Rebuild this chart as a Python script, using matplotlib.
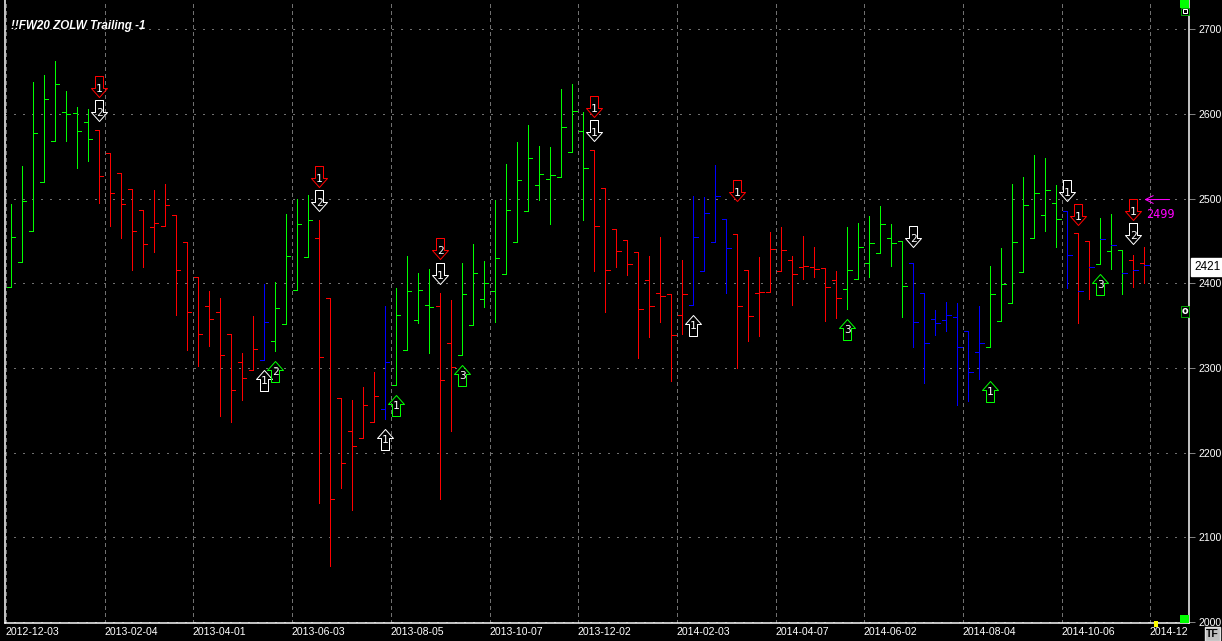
import numpy as np
import matplotlib
matplotlib.use("Agg")
import matplotlib.pyplot as plt
from matplotlib.path import Path
from matplotlib.patches import Rectangle

# weekly bars, 2012-12-03 to 2014-11-24
highs = [2494, 2539, 2638, 2646, 2663, 2627, 2608, 2606, 2581, 2554, 2530, 2512, 2487, 2510, 2517,
         2481, 2449, 2408, 2391, 2383, 2340, 2318, 2362, 2399, 2402, 2482, 2500, 2504, 2475, 2383,
         2265, 2262, 2278, 2295, 2373, 2395, 2432, 2412, 2417, 2389, 2380, 2424, 2446, 2426, 2498,
         2541, 2567, 2587, 2562, 2561, 2630, 2635, 2602, 2558, 2513, 2464, 2451, 2437, 2432, 2455,
         2388, 2428, 2503, 2502, 2540, 2476, 2458, 2416, 2431, 2461, 2467, 2432, 2456, 2443, 2418,
         2415, 2467, 2471, 2480, 2491, 2470, 2450, 2424, 2389, 2369, 2378, 2377, 2344, 2373, 2421,
         2442, 2517, 2526, 2552, 2548, 2516, 2485, 2460, 2450, 2477, 2482, 2439, 2434, 2443]
lows = [2396, 2425, 2462, 2520, 2568, 2568, 2536, 2545, 2495, 2468, 2454, 2416, 2419, 2437, 2468,
        2363, 2321, 2302, 2326, 2244, 2236, 2262, 2298, 2310, 2320, 2352, 2392, 2431, 2141, 2066,
        2158, 2133, 2218, 2236, 2240, 2280, 2321, 2353, 2318, 2146, 2226, 2315, 2351, 2372, 2354,
        2411, 2449, 2485, 2498, 2470, 2526, 2555, 2475, 2415, 2366, 2419, 2410, 2312, 2337, 2354,
        2285, 2340, 2375, 2415, 2449, 2389, 2300, 2332, 2338, 2390, 2415, 2375, 2405, 2408, 2356,
        2359, 2370, 2405, 2408, 2436, 2421, 2360, 2325, 2282, 2339, 2344, 2256, 2261, 2287, 2325,
        2356, 2377, 2413, 2454, 2462, 2443, 2395, 2353, 2382, 2423, 2417, 2388, 2396, 2400]
opens = [2396, 2425, 2462, 2520, 2568, 2602, 2601, 2591, 2581, 2554, 2530, 2512, 2487, 2467, 2468,
         2481, 2449, 2408, 2373, 2366, 2340, 2307, 2298, 2310, 2332, 2352, 2392, 2431, 2454, 2383,
         2265, 2226, 2218, 2236, 2252, 2280, 2321, 2357, 2375, 2373, 2330, 2315, 2351, 2382, 2391,
         2411, 2449, 2485, 2516, 2523, 2526, 2555, 2580, 2558, 2513, 2464, 2451, 2437, 2404, 2389,
         2388, 2363, 2375, 2415, 2449, 2476, 2458, 2416, 2389, 2390, 2415, 2428, 2419, 2419, 2418,
         2404, 2393, 2405, 2424, 2436, 2454, 2450, 2424, 2389, 2358, 2357, 2360, 2344, 2319, 2325,
         2356, 2377, 2413, 2454, 2481, 2495, 2485, 2460, 2450, 2423, 2438, 2439, 2428, 2424]
closes = [2455, 2497, 2578, 2618, 2635, 2600, 2580, 2571, 2527, 2507, 2494, 2462, 2446, 2471, 2493,
          2416, 2366, 2340, 2358, 2315, 2274, 2288, 2323, 2354, 2371, 2432, 2470, 2475, 2313, 2146,
          2188, 2208, 2256, 2267, 2307, 2363, 2391, 2392, 2372, 2286, 2301, 2388, 2412, 2400, 2430,
          2487, 2522, 2548, 2529, 2528, 2585, 2604, 2536, 2468, 2416, 2438, 2423, 2370, 2373, 2385,
          2339, 2388, 2455, 2483, 2503, 2442, 2373, 2362, 2390, 2441, 2439, 2411, 2421, 2417, 2396,
          2383, 2416, 2443, 2448, 2470, 2448, 2397, 2354, 2330, 2353, 2363, 2325, 2295, 2330, 2388,
          2399, 2449, 2493, 2507, 2510, 2476, 2434, 2391, 2419, 2452, 2445, 2412, 2416, 2422]
bar_colors = (["#00ff00"] * 8 + ["#ff0000"] * 15 + ["#0000ff"] + ["#00ff00"] * 4 + ["#ff0000"] * 6
              + ["#0000ff"] + ["#00ff00"] * 4 + ["#ff0000"] * 2 + ["#00ff00"] * 12 + ["#ff0000"] * 9
              + ["#0000ff"] * 4 + ["#ff0000"] * 10 + ["#00ff00"] * 6 + ["#0000ff"] * 7 + ["#00ff00"] * 7
              + ["#0000ff"] + ["#ff0000"] * 2 + ["#00ff00"] * 3 + ["#ff0000"] * 2)
close_colors = bar_colors[:97] + ["#0000ff"] * 7

date_idx = [0, 9, 17, 26, 35, 44, 52, 61, 70, 78, 87, 96, 104]
date_labels = ["2012-12-03", "2013-02-04", "2013-04-01", "2013-06-03", "2013-08-05", "2013-10-07",
               "2013-12-02", "2014-02-03", "2014-04-07", "2014-06-02", "2014-08-04", "2014-10-06",
               "2014-12"]
price_ticks = [2000, 2100, 2200, 2300, 2400, 2500, 2600, 2700]

# signal arrows: bar, tip price, colour, number
down_arrows = [(8, 2620, "#ff0000", "1"), (8, 2592, "white", "2"),
               (28, 2514, "#ff0000", "1"), (28, 2486, "white", "2"),
               (39, 2429, "#ff0000", "2"), (39, 2399, "white", "1"),
               (53, 2596, "#ff0000", "1"), (53, 2568, "white", "1"),
               (66, 2497, "#ff0000", "1"), (82, 2443, "white", "2"),
               (96, 2497, "white", "1"), (97, 2469, "#ff0000", "1"),
               (102, 2475, "#ff0000", "1"), (102, 2447, "white", "2")]
up_arrows = [(23, 2298, "white", "1"), (24, 2308, "#00ff00", "2"),
             (34, 2228, "white", "1"), (35, 2268, "#00ff00", "1"),
             (41, 2304, "#00ff00", "3"), (62, 2363, "white", "1"),
             (76, 2358, "#00ff00", "3"), (89, 2285, "#00ff00", "1"),
             (99, 2411, "#00ff00", "3")]
last_price = 2421
stop_price = 2499

px = 72.0 / 100.0  # one pixel in points at dpi 100

fig = plt.figure(figsize=(12.22, 6.41), dpi=100, facecolor="black")
ax = fig.add_axes([5 / 1222, 18 / 641, 1184 / 1222, 623 / 641], facecolor="black")
ax.set_xlim(-0.573, 107.06)
ax.set_ylim(1999, 2734.6)

# grid
for p in price_ticks:
    ax.axhline(p, color="#707070", lw=px, dashes=(2, 7), antialiased=False, zorder=1)
for i in date_idx:
    ax.axvline(i - 0.5, color="#707070", lw=px, dashes=(3, 3), antialiased=False, zorder=1)

# bars
x = np.arange(len(highs))
ax.vlines(x, lows, highs, colors=bar_colors, lw=px, antialiased=False, zorder=3)
ax.hlines(opens, x - 0.38, x, colors=bar_colors, lw=px, antialiased=False, zorder=3)
ax.hlines(closes, x, x + 0.38, colors=close_colors, lw=px, antialiased=False, zorder=3)

# arrows
down_shape = Path([(0, 0), (8, 9), (4, 9), (4, 21), (-4, 21), (-4, 9), (-8, 9), (0, 0)], closed=True)
up_shape = Path([(0, 0), (8, -9), (4, -9), (4, -21), (-4, -21), (-4, -9), (-8, -9), (0, 0)], closed=True)
for arrows, shape, off in [(down_arrows, down_shape, 8), (up_arrows, up_shape, -11)]:
    for i, p, c, n in arrows:
        ax.plot([i], [p], marker=shape, ms=42 * px, mfc="none", mec=c, mew=px,
                linestyle="none", zorder=4)
        ax.annotate(n, (i, p), xytext=(0, off * px), textcoords="offset points", color="white",
                    fontsize=8, family="DejaVu Sans Mono", ha="center", va="center", zorder=5)

# magenta stop marker
ax.annotate("", (103, stop_price), xytext=(105.3, stop_price),
            arrowprops=dict(arrowstyle="->", color="#ff00ff", lw=px, shrinkA=0, shrinkB=0,
                            mutation_scale=14))
ax.annotate(str(stop_price), (103, stop_price), xytext=(2 * px, -15 * px), textcoords="offset points",
            color="#ff00ff", fontsize=8.5, family="DejaVu Sans Mono", ha="left", va="center")

ax.text(6 / 1184, 1 - 26 / 623, "!!FW20 ZOLW Trailing -1", transform=ax.transAxes, color="white",
        fontsize=8.4, family="Liberation Sans", weight="bold", style="italic", va="center")

# axes
for side in ["left", "right", "bottom"]:
    ax.spines[side].set_color("white")
    ax.spines[side].set_linewidth(px * 1.5)
ax.spines["top"].set_visible(False)
ax.yaxis.tick_right()
ax.set_yticks(price_ticks)
ax.set_yticklabels([str(p) for p in price_ticks], family="Liberation Sans", fontsize=7.6, color="white")
ax.tick_params(axis="y", length=6 * px, width=px, color="#808080", pad=2.5)
ax.set_xticks([i - 0.5 for i in date_idx])
ax.set_xticklabels(date_labels, family="Liberation Sans", fontsize=7.6, color="white", ha="left")
ax.tick_params(axis="x", length=0, pad=3)

# price box, side markers and button
ax.annotate(str(last_price), (1, last_price), xycoords=("axes fraction", "data"), xytext=(5 * px, -1 * px),
            textcoords="offset points", color="black", fontsize=8.5, family="Liberation Sans",
            ha="left", va="center",
            bbox=dict(boxstyle="square,pad=0.25", fc="white", ec="white"), annotation_clip=False)
ax.add_patch(Rectangle((1180 / 1222, 1 - 8 / 641), 9 / 1222, 8 / 641, transform=fig.transFigure,
                       fc="#00ff00", ec="none", clip_on=False, zorder=6))
ax.add_patch(Rectangle((1180.5 / 1222, 1 - 15 / 641), 8 / 1222, 7 / 641, transform=fig.transFigure,
                       fc="black", ec="#00a000", lw=px, clip_on=False, zorder=6))
ax.add_patch(Rectangle((1182.5 / 1222, 1 - 13 / 641), 4 / 1222, 4 / 641, transform=fig.transFigure,
                       fc="black", ec="white", lw=px, clip_on=False, zorder=7))
ax.add_patch(Rectangle((1180 / 1222, 18 / 641), 9 / 1222, 8 / 641, transform=fig.transFigure,
                       fc="#00ff00", ec="none", clip_on=False, zorder=6))
ax.add_patch(Rectangle((1154 / 1222, 14 / 641), 4 / 1222, 6 / 641, transform=fig.transFigure,
                       fc="#ffff00", ec="none", clip_on=False, zorder=6))
ax.add_patch(Rectangle((1180.5 / 1222, 324 / 641), 8 / 1222, 11 / 641, transform=fig.transFigure,
                       fc="black", ec="#00a000", lw=px, clip_on=False, zorder=6))
fig.text(1184.5 / 1222, 329.5 / 641, "o", color="white", fontsize=7, weight="bold", ha="center",
         va="center", zorder=7)
fig.text(1212.5 / 1222, 7 / 641, "TF", color="black", fontsize=7.5, family="Liberation Sans",
         weight="bold", ha="center", va="center",
         bbox=dict(boxstyle="square,pad=0.15", fc="#c0c0c0", ec="#e0e0e0"))

fig.savefig("out.png", dpi=100, facecolor="black")
